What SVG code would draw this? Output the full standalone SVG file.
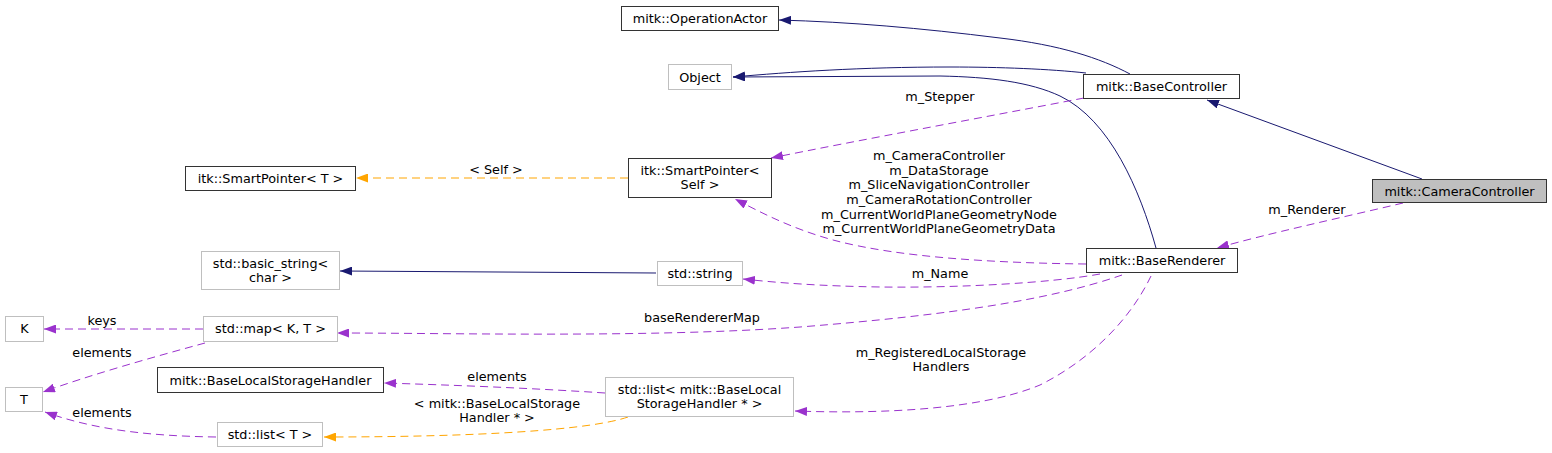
<svg xmlns="http://www.w3.org/2000/svg" width="1552" height="453" viewBox="0 0 1552 453">
<style>
.t{font-family:"DejaVu Sans","Liberation Sans",sans-serif;font-size:12.8px;fill:#000;text-anchor:middle}
.nb{fill:#fff;stroke:#333;stroke-width:1}
.ng{fill:#fff;stroke:#bfbfbf;stroke-width:1}
.nc{fill:#bfbfbf;stroke:#333;stroke-width:1}
.inh{fill:none;stroke:#191970;stroke-width:1;marker-end:url(#ab)}
.use{fill:none;stroke:#9a32cd;stroke-width:1;stroke-dasharray:8,5;marker-end:url(#ap)}
.tpl{fill:none;stroke:#ffa500;stroke-width:1;stroke-dasharray:8,5;marker-end:url(#ao)}
</style>
<defs>
<marker id="ab" viewBox="0 0 12 9" refX="12" refY="4.5" markerWidth="12" markerHeight="9" markerUnits="userSpaceOnUse" orient="auto"><path d="M0,0 L12,4.5 L0,9 z" fill="#191970"/></marker>
<marker id="ap" viewBox="0 0 12 9" refX="12" refY="4.5" markerWidth="12" markerHeight="9" markerUnits="userSpaceOnUse" orient="auto"><path d="M0,0 L12,4.5 L0,9 z" fill="#9a32cd"/></marker>
<marker id="ao" viewBox="0 0 12 9" refX="12" refY="4.5" markerWidth="12" markerHeight="9" markerUnits="userSpaceOnUse" orient="auto"><path d="M0,0 L12,4.5 L0,9 z" fill="#ffa500"/></marker>
</defs>
<rect width="1552" height="453" fill="#fff"/>
<g id="edges">
<path class="inh" d="M1130,74 C1100,58 1060,45 1000,38 C920,28 850,22 779,20"/>
<path class="inh" d="M1086,73 C1050,69 1000,67 950,67 C860,67 790,72 733,77"/>
<path class="inh" d="M1156,248 C1140,190 1110,120 1060,96 C1030,82 990,77 940,76 L733,77"/>
<path class="inh" d="M1422,179 L1207,100"/>
<path class="use" d="M1403,203 C1340,218 1270,233 1217,248"/>
<text class="t" x="1307" y="214">m_Renderer</text>
<path class="use" d="M1084,98 C980,118 860,140 771,158"/>
<text class="t" x="940" y="101">m_Stepper</text>
<path class="tpl" d="M628,178 L356,178"/>
<text class="t" x="496" y="174">&lt; Self &gt;</text>
<path class="use" d="M1086,264 C1000,263 900,258 833,240 C790,228 760,212 735,199"/>
<text class="t" x="939" y="160">m_CameraController</text>
<text class="t" x="939" y="175">m_DataStorage</text>
<text class="t" x="939" y="189">m_SliceNavigationController</text>
<text class="t" x="939" y="204">m_CameraRotationController</text>
<text class="t" x="939" y="219">m_CurrentWorldPlaneGeometryNode</text>
<text class="t" x="939" y="233">m_CurrentWorldPlaneGeometryData</text>
<path class="inh" d="M656,273 L340,271"/>
<path class="use" d="M1100,274 C1050,283 960,288 880,287 C820,286 780,283 743,279"/>
<text class="t" x="940" y="278">m_Name</text>
<path class="use" d="M1122,275 C1050,300 950,315 800,327 C650,338 450,333 337,333"/>
<text class="t" x="702" y="322">baseRendererMap</text>
<path class="use" d="M203,329 L44,329"/>
<text class="t" x="102" y="325">keys</text>
<path class="use" d="M205,343 C150,358 90,375 43,392"/>
<text class="t" x="102" y="357">elements</text>
<path class="use" d="M216,437 C150,436 95,430 45,412"/>
<text class="t" x="102" y="417">elements</text>
<path class="use" d="M605,393 C530,388 450,385 384,383"/>
<text class="t" x="497" y="381">elements</text>
<path class="tpl" d="M628,417 C590,430 480,437 324,437"/>
<text class="t" x="497" y="408">&lt; mitk::BaseLocalStorage</text>
<text class="t" x="497" y="422">Handler * &gt;</text>
<path class="use" d="M1151,276 C1130,320 1090,360 1040,385 C980,410 880,414 795,411"/>
<text class="t" x="941" y="357">m_RegisteredLocalStorage</text>
<text class="t" x="941" y="371">Handlers</text>
</g>
<g id="node-OperationActor"><rect class="nb" x="621.5" y="6.5" width="157" height="24"/><text class="t" x="700" y="23">mitk::OperationActor</text></g>
<g id="node-Object"><rect class="ng" x="668.5" y="64.5" width="63" height="25"/><text class="t" x="700" y="82">Object</text></g>
<g id="node-BaseController"><rect class="nb" x="1083.5" y="74.5" width="156" height="24"/><text class="t" x="1161.5" y="91">mitk::BaseController</text></g>
<g id="node-CameraController"><rect class="nc" x="1372.5" y="179.5" width="174" height="23"/><text class="t" x="1459.5" y="196">mitk::CameraController</text></g>
<g id="node-SmartPointerT"><rect class="nb" x="185.5" y="166.5" width="170" height="24"/><text class="t" x="270.5" y="183">itk::SmartPointer&lt; T &gt;</text></g>
<g id="node-SmartPointerSelf"><rect class="nb" x="628.5" y="158.5" width="143" height="39"/><text class="t" x="700" y="175">itk::SmartPointer&lt;</text><text class="t" x="700" y="189">Self &gt;</text></g>
<g id="node-basic_string"><rect class="ng" x="201.5" y="251.5" width="138" height="38"/><text class="t" x="270.5" y="268">std::basic_string&lt;</text><text class="t" x="270.5" y="282">char &gt;</text></g>
<g id="node-string"><rect class="ng" x="657.5" y="261.5" width="85" height="24"/><text class="t" x="700" y="278">std::string</text></g>
<g id="node-BaseRenderer"><rect class="nb" x="1086.5" y="248.5" width="151" height="24"/><text class="t" x="1162" y="265">mitk::BaseRenderer</text></g>
<g id="node-K"><rect class="ng" x="5.5" y="316.5" width="38" height="25"/><text class="t" x="24.5" y="333">K</text></g>
<g id="node-map"><rect class="ng" x="203.5" y="316.5" width="134" height="25"/><text class="t" x="270.5" y="333">std::map&lt; K, T &gt;</text></g>
<g id="node-T"><rect class="ng" x="5.5" y="387.5" width="37" height="24"/><text class="t" x="24" y="404">T</text></g>
<g id="node-BaseLocalStorageHandler"><rect class="nb" x="157.5" y="367.5" width="226" height="25"/><text class="t" x="270.5" y="385">mitk::BaseLocalStorageHandler</text></g>
<g id="node-listBLSH"><rect class="ng" x="605.5" y="377.5" width="188" height="39"/><text class="t" x="699.5" y="394">std::list&lt; mitk::BaseLocal</text><text class="t" x="699.5" y="408">StorageHandler * &gt;</text></g>
<g id="node-listT"><rect class="ng" x="217.5" y="422.5" width="105" height="24"/><text class="t" x="270" y="439">std::list&lt; T &gt;</text></g>
</svg>
